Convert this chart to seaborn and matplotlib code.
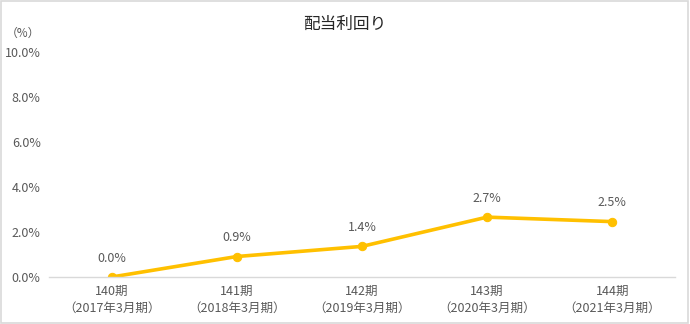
import seaborn as sns
import pandas as pd
import matplotlib.pyplot as plt
from matplotlib.patches import Rectangle

periods = ['140期\n（2017年3月期）', '141期\n（2018年3月期）', '142期\n（2019年3月期）',
           '143期\n（2020年3月期）', '144期\n（2021年3月期）']
yields = [0.0, 0.91, 1.36, 2.66, 2.46]
yticks = [0, 2, 4, 6, 8, 10]

sns.set_style("white")
plt.rcParams['font.family'] = ['Noto Sans CJK JP', 'DejaVu Sans']

grey = '#595959'
gold = '#FFC000'

df = pd.DataFrame({'pos': range(len(periods)), 'yield': yields})

fig = plt.figure(figsize=(6.9, 3.24), dpi=100)
ax = fig.add_axes([0.071, 0.145, 0.907, 0.695])

sns.lineplot(x='pos', y='yield', data=df, color=gold, linewidth=2.6,
             marker='o', markersize=6, markeredgecolor=gold, ax=ax)

for x, y in zip(df['pos'], df['yield']):
    ax.annotate(f'{y:.1f}%', (x, y), xytext=(0, 9), textcoords='offset points',
                ha='center', va='bottom', fontsize=9, color=grey)

ax.set_xlim(-0.5, 4.5)
ax.set_ylim(0, 10)
ax.set_xticks(range(len(periods)))
ax.set_xticklabels(periods, fontsize=9, color=grey, linespacing=1.3)
ax.set_yticks(yticks)
ax.set_yticklabels([f'{t:.1f}%' for t in yticks], fontsize=9, color=grey)
ax.tick_params(axis='both', length=0, pad=6)
ax.set_xlabel('')
ax.set_ylabel('')

for s in ['top', 'right', 'left']:
    ax.spines[s].set_visible(False)
ax.spines['bottom'].set_color('#d9d9d9')
ax.spines['bottom'].set_linewidth(1)

fig.text(0.5, 0.925, '配当利回り', ha='center', va='center', fontsize=12, color='#262626')
fig.text(0.033, 0.897, '（%）', ha='center', va='center', fontsize=8.5, color=grey)

fig.patches.append(Rectangle((0.002, 0.003), 0.995, 0.993, transform=fig.transFigure,
                             fill=False, edgecolor='#d9d9d9', linewidth=1.2))

fig.savefig('out.png', dpi=100)
